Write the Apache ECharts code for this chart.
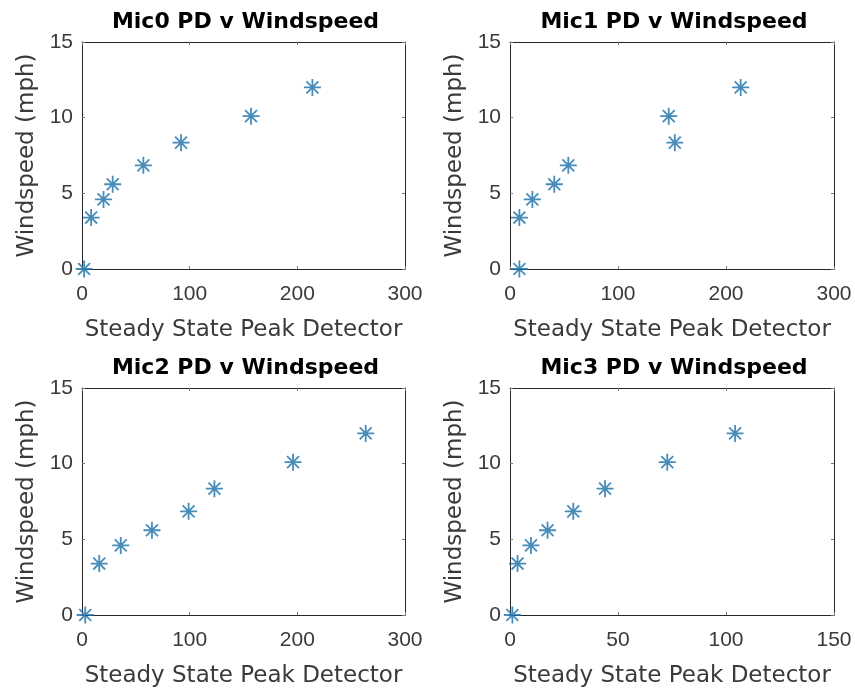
<!DOCTYPE html>
<html>
<head>
<meta charset="utf-8">
<script src="https://cdn.jsdelivr.net/npm/echarts@6/dist/echarts.min.js"></script>
<style>
  html, body { margin: 0; background: #fff; }
  #chart { width: 855px; height: 691px; }
</style>
</head>
<body>
<div id="chart"></div>
<script>
// values
const titles = ['Mic0 PD v Windspeed', 'Mic1 PD v Windspeed', 'Mic2 PD v Windspeed', 'Mic3 PD v Windspeed']
const windspeed = [0, 3.4, 4.6, 5.6, 6.85, 8.35, 10.1, 12]
const mic0PD = [2, 8.5, 20, 28.5, 57, 92, 157, 214]
const mic1PD = [8.7, 8.7, 20.7, 41, 54, 152.6, 147, 213.6]
const mic2PD = [3, 16, 36, 65, 99, 123, 196, 263.5]
const mic3PD = [1.1, 3.5, 9.7, 17.4, 29.3, 44, 72.8, 104.2]
const xMax = [300, 300, 300, 150]
const xStep = [100, 100, 100, 50]
const yMax = 15
const yStep = 5

const peakDetector = [mic0PD, mic1PD, mic2PD, mic3PD]

// subplot boxes (px)
const boxes = [
  {left: 82, top: 42, width: 323, height: 227},
  {left: 510, top: 42, width: 324, height: 227},
  {left: 82, top: 388, width: 323, height: 227},
  {left: 510, top: 388, width: 324, height: 227}
]

const TICK_FONT = '"Liberation Sans", Arial, Helvetica, sans-serif'
const TEXT_FONT = '"DejaVu Sans", "Liberation Sans", Arial, sans-serif'
const AXIS_COLOR = '#262626'
const LABEL_COLOR = '#3a3a3a'
const STAR = 'path://M10 0L10 20M0 10L20 10M3 3L17 17M3 17L17 3'

const chart = echarts.init(document.getElementById('chart'), null, {renderer: 'canvas'})

const grid = [], xAxis = [], yAxis = [], series = [], title = []

boxes.forEach((b, i) => {
  grid.push({left: b.left, top: b.top, width: b.width, height: b.height, containLabel: false})

  title.push({
    text: titles[i],
    left: b.left + b.width / 2 - 3,
    top: b.top - 36,
    textAlign: 'center',
    textStyle: {fontFamily: TEXT_FONT, fontSize: 22, fontWeight: 'bold', color: '#000'}
  })

  const tick = {show: true, inside: true, length: 3, lineStyle: {color: '#777', width: 1}}
  const line = {show: true, onZero: false, lineStyle: {color: AXIS_COLOR, width: 1}}

  // bottom / left axes with labels
  xAxis.push({
    gridIndex: i, type: 'value', position: 'bottom',
    min: 0, max: xMax[i], interval: xStep[i],
    axisLine: line, axisTick: tick, splitLine: {show: false},
    axisLabel: {fontFamily: TICK_FONT, fontSize: 21, color: LABEL_COLOR, margin: 15},
    name: 'Steady State Peak Detector', nameLocation: 'middle', nameGap: 50,
    nameTextStyle: {fontFamily: TEXT_FONT, fontSize: 23, color: LABEL_COLOR}
  })
  yAxis.push({
    gridIndex: i, type: 'value', position: 'left',
    min: 0, max: yMax, interval: yStep,
    axisLine: line, axisTick: tick, splitLine: {show: false},
    axisLabel: {fontFamily: TICK_FONT, fontSize: 21, color: LABEL_COLOR, margin: 9},
    name: 'Windspeed (mph)', nameLocation: 'middle', nameGap: 43,
    nameTextStyle: {fontFamily: TEXT_FONT, fontSize: 23, color: LABEL_COLOR}
  })
  // mirrored box sides (top / right) with inward ticks
  xAxis.push({
    gridIndex: i, type: 'value', position: 'top',
    min: 0, max: xMax[i], interval: xStep[i],
    axisLine: line, axisTick: tick, axisLabel: {show: false}, splitLine: {show: false}
  })
  yAxis.push({
    gridIndex: i, type: 'value', position: 'right',
    min: 0, max: yMax, interval: yStep,
    axisLine: line, axisTick: tick, axisLabel: {show: false}, splitLine: {show: false}
  })

  series.push({
    type: 'scatter',
    xAxisIndex: i * 2,
    yAxisIndex: i * 2,
    symbol: STAR,
    symbolSize: 17,
    itemStyle: {color: 'transparent', borderColor: '#1a6fa8', borderWidth: 1.8},
    emphasis: {disabled: true},
    data: peakDetector[i].map((x, k) => [x, windspeed[k]])
  })
})

chart.setOption({
  backgroundColor: '#fff',
  animation: false,
  title, grid, xAxis, yAxis, series
})
</script>
</body>
</html>
